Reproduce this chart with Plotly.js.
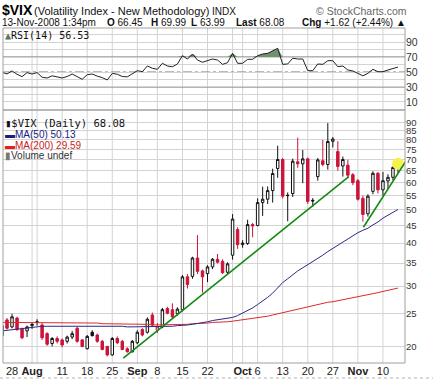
<!DOCTYPE html>
<html><head><meta charset="utf-8">
<script src="https://cdn.plot.ly/plotly-3.0.1.min.js"></script>
<style>html,body{margin:0;padding:0;background:#fff}#chart{width:433px;height:379px}</style>
</head><body><div id="chart"></div>
<script>
// ---------------- DATA ----------------
const dates = ["2008-07-24","2008-07-25","2008-07-28","2008-07-29","2008-07-30","2008-07-31","2008-08-01",
"2008-08-04","2008-08-05","2008-08-06","2008-08-07","2008-08-08",
"2008-08-11","2008-08-12","2008-08-13","2008-08-14","2008-08-15",
"2008-08-18","2008-08-19","2008-08-20","2008-08-21","2008-08-22",
"2008-08-25","2008-08-26","2008-08-27","2008-08-28","2008-08-29",
"2008-09-02","2008-09-03","2008-09-04","2008-09-05",
"2008-09-08","2008-09-09","2008-09-10","2008-09-11","2008-09-12",
"2008-09-15","2008-09-16","2008-09-17","2008-09-18","2008-09-19",
"2008-09-22","2008-09-23","2008-09-24","2008-09-25","2008-09-26",
"2008-09-29","2008-09-30","2008-10-01","2008-10-02","2008-10-03",
"2008-10-06","2008-10-07","2008-10-08","2008-10-09","2008-10-10",
"2008-10-13","2008-10-14","2008-10-15","2008-10-16","2008-10-17",
"2008-10-20","2008-10-21","2008-10-22","2008-10-23","2008-10-24",
"2008-10-27","2008-10-28","2008-10-29","2008-10-30","2008-10-31",
"2008-11-03","2008-11-04","2008-11-05","2008-11-06","2008-11-07",
"2008-11-10","2008-11-11","2008-11-12","2008-11-13"];

const open = [21.5,23.9,22.8,24.2,22.5,22.2,23.0, 23.5,23.1,21.8,20.4,21.1, 20.9,20.7,21.3,22.6,20.9,
19.7,22.0,21.6,20.7,20.0, 18.9,21.1,20.7,19.7,19.3, 20.5,22.4,22.0,24.7, 22.3,22.8,25.8,25.6,24.9,
25.6,31.9,32.0,36.2,33.2, 32.6,34.1,35.9,35.4,32.9, 36.9,43.8,39.6,39.9,45.3, 45.0,52.5,53.7,56.9,66.0,
70.1,55.0,55.8,69.0,68.1, 70.4,53.3,62.5,69.5,67.8, 79.2,73.9,67.1,67.5,63.3, 60.8,54.0,48.7,56.6,63.9,
57.2,60.7,62.2,66.45];
const high = [23.4,24.2,24.9,24.4,22.7,23.0,23.4, 24.0,23.4,22.0,21.3,21.4, 21.1,21.5,22.2,22.8,21.0,
21.6,22.3,21.8,20.9,20.1, 21.3,21.4,20.9,19.9,20.9, 22.3,22.6,24.3,25.1, 23.4,25.9,26.1,26.7,26.0,
32.3,32.5,36.5,42.2,33.5, 34.5,36.2,37.2,35.9,35.2, 48.6,44.5,40.8,46.8,45.8, 54.0,58.4,58.5,65.9,76.9,
70.8,56.2,70.5,81.2,74.7, 71.0,54.1,70.8,79.9,89.5, 81.5,79.3,71.5,70.0,64.0, 61.5,55.0,55.5,64.8,64.5,
64.5,63.5,67.0,69.99];
const low = [21.3,22.4,22.6,22.2,21.0,21.3,22.5, 23.0,20.9,20.1,20.0,20.4, 19.9,20.4,21.0,20.5,19.9,
19.6,21.4,20.5,19.5,18.7, 18.8,20.3,19.5,19.2,19.2, 20.3,21.4,21.8,22.9, 21.9,22.6,24.8,24.2,24.6,
25.3,29.5,31.5,32.5,28.7, 30.8,33.6,34.9,32.5,32.5, 35.8,38.5,38.8,39.5,41.6, 44.8,48.0,52.0,52.5,62.0,
54.0,46.3,54.5,66.3,59.8, 52.0,51.1,60.8,67.0,65.5, 76.0,65.0,62.5,62.0,59.0, 53.2,46.2,47.8,55.5,55.8,
55.0,57.5,61.0,63.99];
const close = [23.0,22.6,24.4,22.4,21.2,22.8,23.2, 23.6,21.2,20.3,21.1,20.7, 20.2,21.3,21.8,20.7,20.0,
21.4,21.5,20.7,19.6,18.9, 21.1,20.5,19.6,19.3,20.7, 22.0,21.6,24.0,23.1, 22.8,25.6,25.0,24.4,25.7,
31.9,30.3,36.2,33.1,31.9, 34.1,35.9,35.2,32.8,34.8, 47.0,39.6,40.0,45.3,44.9, 52.5,53.7,56.9,63.8,70.1,
54.8,55.1,69.3,68.1,70.4, 52.9,53.1,69.9,67.8,79.1, 80.4,66.9,70.1,63.1,60.0, 53.7,48.5,54.8,63.9,57.2,
60.8,62.2,66.46,68.08];

const ma50 = [22.2,22.3,22.4,22.5,22.6,22.7,22.8,22.8,22.9,22.9, 22.9,22.9,22.9,22.9,23.0,23.0,23.0,23.0,23.0,23.0,
23.0,22.9,22.9,22.9,22.9,22.8,22.8,22.8,22.8,22.8, 22.8,22.8,22.8,22.9,22.9,23.0,23.0,23.1,23.2,23.3,
23.4,23.6,23.8,23.9,24.0,24.1,24.3,24.6,25.0,25.4, 25.9,26.5,27.1,27.8,28.6,29.7,30.7,31.5,32.4,33.2,
33.9,34.6,35.4,36.2,36.9,37.8,38.6,39.6,40.4,41.3, 42.1,42.9,43.6,44.2,45.2,46.1,47.3,48.3,49.3,50.13];

const ma200 = [23.5,23.5,23.5,23.5,23.5,23.5,23.5,23.5,23.5,23.5, 23.5,23.5,23.5,23.4,23.4,23.4,23.4,23.4,23.4,23.4,
23.3,23.3,23.3,23.3,23.3,23.2,23.2,23.2,23.2,23.2, 23.1,23.1,23.1,23.1,23.1,23.1,23.2,23.2,23.3,23.3,
23.4,23.4,23.5,23.5,23.6,23.6,23.7,23.8,23.9,24.0, 24.1,24.3,24.4,24.5,24.7,24.9,25.1,25.3,25.5,25.7,
25.9,26.1,26.3,26.5,26.7,26.9,27.0,27.2,27.4,27.6, 27.8,28.0,28.2,28.3,28.5,28.7,28.9,29.1,29.3,29.59];

const rsi = [49.6,47.4,51.4,47.0,43.8,49.2,47.3,49.2,43.0,42.0, 44.9,43.5,42.0,44.0,47.3,43.8,40.3,46.4,47.3,44.5,
42.5,39.4,48.2,47.0,44.0,43.5,48.2,51.8,50.4,58.0, 55.0,53.6,61.6,58.0,57.0,60.7,71.8,67.3,74.0,66.0,
63.0,64.9,67.3,66.0,60.2,62.4,74.9,61.6,61.6,66.9, 66.9,71.8,74.0,74.9,78.4,81.6,60.2,60.7,68.4,67.3,
67.3,51.8,51.8,60.7,60.2,65.1,65.1,57.1,58.0,52.7, 51.4,48.2,44.9,48.2,53.6,50.4,50.4,52.7,54.9,56.53];

// trend lines: [trading-day position, price]
const trendA_pos = [24.2, 69.2];
const trendA_val = [18.5, 62.5];
const trendB_pos = [72.1, 80.6];
const trendB_val = [44.5, 69.4];

const labelDates = ["2008-07-28","2008-08-01","2008-08-11","2008-08-18","2008-08-25","2008-09-02","2008-09-08",
"2008-09-15","2008-09-22","2008-10-01","2008-10-06","2008-10-13","2008-10-20","2008-10-27","2008-11-03","2008-11-10"];
const labelText = ["28","<b>Aug</b>","11","18","25","<b>Sep</b>","8","15","22","<b>Oct</b>","6","13","20","27","<b>Nov</b>","10"];
const gridDates = ["2008-08-01","2008-08-04","2008-08-11","2008-08-18","2008-08-25","2008-09-02","2008-09-08",
"2008-09-15","2008-09-22","2008-09-29","2008-10-01","2008-10-06","2008-10-13","2008-10-20","2008-10-27","2008-11-03","2008-11-10"];
const priceTicks = [20,25,30,35,40,45,50,55,60,65,70,75,80,85,90];
const rsiTicks = [10,30,50,70,90];

// ---------------- BUILD ----------------
const N = dates.length;
const pos = dates.map((d,i)=>i);
const idx = d => dates.indexOf(d);

const RED = '#cc1439', BLK = '#111111';
const cats = {redFill:[], blackFill:[], blackHollow:[], redHollow:[]};
for (let i=0;i<N;i++){
  const prev = i>0 ? close[i-1] : open[i];
  const upBody = close[i] >= open[i];
  const upDay = close[i] >= prev;
  if (!upBody && !upDay) cats.redFill.push(i);
  else if (!upBody && upDay) cats.blackFill.push(i);
  else if (upBody && upDay) cats.blackHollow.push(i);
  else cats.redHollow.push(i);
}
function candle(ids, color, fill){
  const st = {line:{color:color, width:1}, fillcolor:fill};
  return {type:'candlestick', x:ids.map(i=>pos[i]), open:ids.map(i=>open[i]), high:ids.map(i=>high[i]),
    low:ids.map(i=>low[i]), close:ids.map(i=>close[i]), increasing:st, decreasing:st,
    whiskerwidth:0, xaxis:'x', yaxis:'y', hoverinfo:'skip', showlegend:false};
}

const rsiTop = rsi.map(v=>Math.max(v,70));
const traces = [
  {type:'scatter', mode:'lines', x:pos, y:rsi.map(()=>70), line:{width:0, color:'rgba(0,0,0,0)'}, xaxis:'x', yaxis:'y2', hoverinfo:'skip'},
  {type:'scatter', mode:'lines', x:pos, y:rsiTop, fill:'tonexty', fillcolor:'#6f936f', line:{width:0, color:'rgba(0,0,0,0)'}, xaxis:'x', yaxis:'y2', hoverinfo:'skip'},
  {type:'scatter', mode:'lines', x:pos, y:rsi, line:{color:'#222', width:1}, xaxis:'x', yaxis:'y2', hoverinfo:'skip'},
  {type:'scatter', mode:'markers', x:[pos[N-1]], y:[close[N-1]], marker:{symbol:'circle', size:12, color:'#f6f24a', line:{width:0}}, xaxis:'x', yaxis:'y', hoverinfo:'skip'},
  {type:'scatter', mode:'lines', x:pos, y:ma200, line:{color:'#dd2a2a', width:1}, xaxis:'x', yaxis:'y', hoverinfo:'skip'},
  {type:'scatter', mode:'lines', x:pos, y:ma50, line:{color:'#2a2a88', width:1}, xaxis:'x', yaxis:'y', hoverinfo:'skip'},
  candle(cats.redFill, RED, RED),
  candle(cats.blackFill, BLK, BLK),
  candle(cats.blackHollow, BLK, '#ffffff'),
  candle(cats.redHollow, RED, '#ffffff'),
  {type:'scatter', mode:'lines', x:trendA_pos, y:trendA_val, line:{color:'#138a13', width:1.6}, xaxis:'x', yaxis:'y', hoverinfo:'skip'},
  {type:'scatter', mode:'lines', x:trendB_pos, y:trendB_val, line:{color:'#138a13', width:1.6}, xaxis:'x', yaxis:'y', hoverinfo:'skip'}
];

const PL=3, PR=405, PT=28, PB=363;
const px = x => (x-PL)/(PR-PL);
const py = y => (PB-y)/(PB-PT);
const split = py(110);

const GRID = '#d3d3d3';
const shapes = [];
gridDates.forEach(d=>{
  shapes.push({type:'line', xref:'x', yref:'paper', x0:idx(d), x1:idx(d), y0:0, y1:1, line:{color:GRID, width:1}, layer:'below'});
});
[20,40,60,80,100].forEach(v=>shapes.push({type:'line', xref:'paper', yref:'y2', x0:0, x1:1, y0:v, y1:v, line:{color:GRID, width:1}, layer:'below'}));
[30,70].forEach(v=>shapes.push({type:'line', xref:'paper', yref:'y2', x0:0, x1:1, y0:v, y1:v, line:{color:'#6a6a6a', width:1}, layer:'below'}));
shapes.push({type:'line', xref:'paper', yref:'y2', x0:0, x1:1, y0:50, y1:50, line:{color:'#777', width:1, dash:'dashdot'}, layer:'below'});
shapes.push({type:'rect', xref:'paper', yref:'paper', x0:0, x1:1, y0:0, y1:split, line:{color:'#a0a0a0', width:1}, fillcolor:'rgba(0,0,0,0)', layer:'above'});
shapes.push({type:'rect', xref:'paper', yref:'paper', x0:0, x1:1, y0:split, y1:1, line:{color:'#a0a0a0', width:1}, fillcolor:'rgba(0,0,0,0)', layer:'above'});
shapes.push({type:'line', xref:'paper', yref:'paper', x0:px(0), x1:px(433), y0:py(378), y1:py(378), line:{color:'#b0b0b0', width:1, dash:'dot'}});

const F = 'Liberation Sans, Arial, sans-serif';
const MONO = 'DejaVu Sans Mono, monospace';
const last = N-1;
const chg = close[last]-close[last-1];
const pct = chg/close[last-1]*100;
const sgn = v => (v>=0?'+':'')+v.toFixed(2);
function ann(x,y,text,size,color,family){
  return {xref:'paper', yref:'paper', x:px(x), y:py(y), xanchor:'left', yanchor:'middle', showarrow:false,
    text:text, font:{family:family||F, size:size, color:color||'#000'}, borderpad:0};
}
const annotations = [
  ann(1,10,'<b>$VIX</b>',14,'#000'),
  ann(33,11,'(Volatility Index - New Methodology)',11,'#111'),
  ann(211,11,'INDX',10,'#111'),
  ann(315,11,'© StockCharts.com',10.5,'#666'),
  ann(1,23,'13-Nov-2008 1:34pm',10,'#111'),
  ann(106,23,'<b>O</b> '+open[last].toFixed(2),10,'#111'),
  ann(150,23,'<b>H</b> '+high[last].toFixed(2),10,'#111'),
  ann(190,23,'<b>L</b> '+low[last].toFixed(2),10,'#111'),
  ann(235,23,'<b>Last</b> '+close[last].toFixed(2),10,'#111'),
  ann(301,23,'<b>Chg</b> '+sgn(chg)+' ('+sgn(pct)+'%) ▲',10,'#111'),
  ann(4,35,'<span style="color:#557755">▲</span>RSI(14) '+rsi[last].toFixed(2),10,'#111',MONO),
  ann(4,123,'▮$VIX (Daily) '+close[last].toFixed(2),10.5,'#111',MONO),
  ann(4,134,'<span style="color:#1a1a80">▬</span>MA(50) '+ma50[last].toFixed(2),10,'#1a1a80'),
  ann(4,145,'<span style="color:#dd2222">▬</span>MA(200) '+ma200[last].toFixed(2),10,'#cc2222'),
  ann(4,155.5,'<span style="color:#777">▮</span>Volume undef',10,'#333')
];

const layout = {
  width:433, height:379,
  margin:{l:PL, r:433-PR, t:PT, b:379-PB, pad:0},
  paper_bgcolor:'#ffffff', plot_bgcolor:'#ffffff',
  showlegend:false,
  font:{family:F, size:11, color:'#222'},
  xaxis:{type:'linear', range:[0.2,80.4], tickmode:'array', tickvals:labelDates.map(idx), ticktext:labelText,
    showgrid:false, zeroline:false, ticks:'', showline:false, rangeslider:{visible:false}, anchor:'y',
    tickfont:{family:F, size:11, color:'#222'}},
  yaxis:{type:'log', domain:[0,split], range:[Math.log10(17.9), Math.log10(97.7)], side:'right', anchor:'x',
    tickmode:'array', tickvals:priceTicks, ticktext:priceTicks.map(String), showgrid:true, gridcolor:GRID,
    zeroline:false, ticks:'', showline:false, tickfont:{family:F, size:9.5, color:'#333'}},
  yaxis2:{domain:[split,1], range:[-0.7,108.7], side:'right', anchor:'x', tickmode:'array', tickvals:rsiTicks,
    ticktext:rsiTicks.map(String), showgrid:true, gridcolor:GRID, zeroline:false, ticks:'', showline:false,
    tickfont:{family:F, size:10.5, color:'#333'}},
  shapes:shapes,
  annotations:annotations
};
Plotly.newPlot('chart', traces, layout, {staticPlot:true, displayModeBar:false});
</script>
</body></html>
